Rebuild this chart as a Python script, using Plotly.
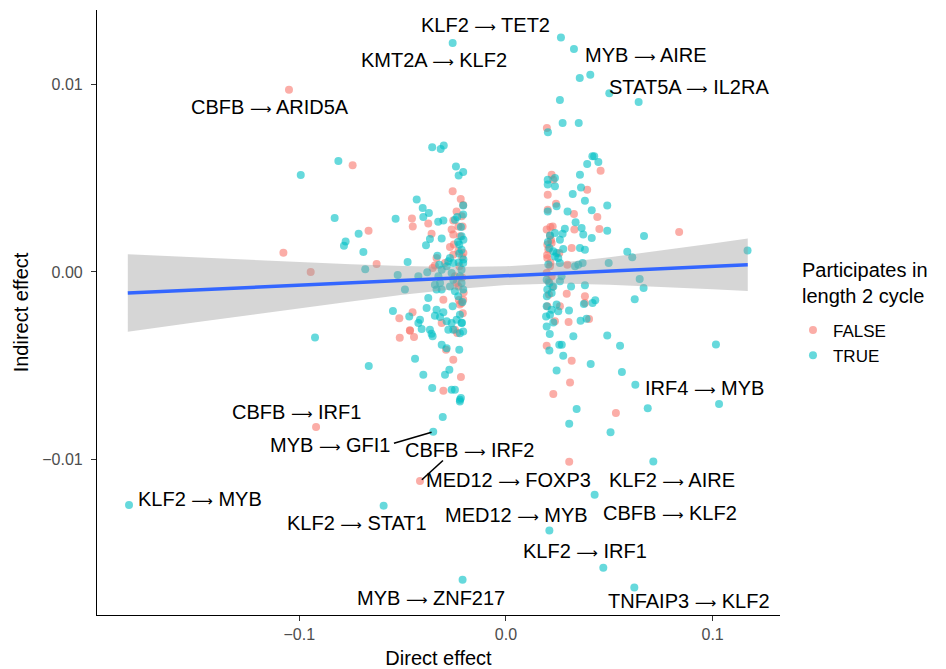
import plotly.graph_objects as go

# ---------------- data ----------------
false_x = [-0.105, -0.0742, -0.0455, -0.0665, -0.1077, -0.0626, -0.0945, -0.0516, -0.0464, -0.0514,
           -0.0919, -0.0416, 0.0306, 0.0532, 0.0838, -0.0258, -0.0219, -0.0207, -0.0451, -0.0376,
           -0.0255, -0.0214, 0.0221, 0.0229, 0.0202, 0.0202, 0.0242, 0.0458, 0.0393, 0.0329,
           0.0442, 0.0198, -0.0239, -0.023, -0.021, -0.036, -0.0263, -0.0255, -0.0271, -0.0252,
           -0.023, -0.0255, -0.0206, -0.0336, -0.0344, -0.0355, -0.0295, -0.0247, -0.023, -0.0215,
           -0.0223, -0.0207, -0.0239, -0.0303, -0.0452, -0.0465, -0.0445, -0.0311, -0.0236, -0.0247,
           -0.029, -0.0255, -0.0218, -0.0303, 0.0452, 0.0331, 0.0197, 0.0213, 0.0226, 0.02,
           0.0221, 0.0318, 0.02, 0.0213, 0.0197, 0.0221, 0.0258, 0.0297, 0.0294, 0.0382,
           0.0382, 0.02, 0.0261, 0.0237, 0.0303, 0.0402, 0.0197, 0.0318, 0.031, 0.0229,
           0.0205, 0.0215, 0.0225, 0.0208, 0.0218, -0.0212, -0.0225, -0.0205,
           -0.0222, -0.0212, -0.0228, -0.0209, 0.0199, 0.0206, 0.0215]
false_y = [0.00972, 0.00569, 0.00285, 0.0022, 0.00103, 0.00043, 0.0, -0.00247, -0.00313, -0.0035,
           -0.00827, -0.01115, -0.01012, -0.00752, 0.00213, 0.0043, 0.00389, 0.00357, 0.00243, 0.00258,
           0.00275, 0.00297, 0.00519, 0.00492, 0.00412, 0.00332, 0.00364, 0.0054, 0.00439, 0.00309,
           0.00293, 0.00768, 0.00323, 0.00243, 0.00243, 0.00204, 0.00226, 0.0020, 0.00133, 0.00146,
           0.0011, 0.00092, 0.00101, 0.00075, 0.00034, 0.00021, 0.00048, -0.00023, -0.00077, -0.00165,
           -0.00174, -0.00148, -0.00059, -0.00148, -0.00215, -0.0031, -0.00347, -0.00272, -0.00325, -0.00308,
           -0.00414, -0.00468, -0.0056, -0.00633, 0.00229, 0.00226, 0.00226, 0.00194, 0.00243, 0.00146,
           0.00155, 0.00128, 0.00074, 0.0003, -0.00005, -0.00023, 0.00101, 0.00039, -0.00116, -0.0013,
           -0.00166, -0.00183, -0.00183, -0.00263, -0.00267, -0.0025, -0.00393, -0.00473, -0.00589, -0.00651,
           0.0012, 0.0005, -0.0008, -0.0012, 0.0017, -0.0003, 0.0003, -0.0011,
           0.0019, 0.0008, -0.0015, -0.0022, 0.0009, -0.0005, 0.0024]

true_x = [-0.0811, -0.0993, -0.0829, -0.0534, -0.0713, -0.0776, -0.0784, -0.069, -0.0476, -0.0681,
          -0.0524, -0.0489, -0.0547, -0.0468, -0.0924, -0.0664, -0.0352, -0.1824, -0.0592, -0.021,
          -0.0223, -0.0306, 0.0342, 0.0306, 0.0506, 0.0686, 0.1031, 0.0713, 0.0429, 0.021,
          0.0471, 0.0621, 0.0668, 0.0587, 0.0611, 0.1169, 0.0647, 0.0666, 0.0623, 0.1016,
          0.0552, 0.0561, 0.0626, -0.0258, 0.0266, 0.0329, 0.0357, 0.0408, 0.05, 0.0642,
          0.0261, 0.0274, 0.0352, 0.0203, -0.0357, -0.0316, -0.0301, -0.0242, -0.0207, -0.0229,
          -0.0432, -0.0403, -0.04, -0.0373, -0.0328, -0.0303, -0.0247, -0.0236, -0.0207, -0.0207,
          0.0202, 0.0202, 0.0237, 0.0237, 0.0202, 0.0245, 0.0323, 0.0358, 0.0393, 0.0418,
          0.0427, 0.0447, 0.0363, 0.0382, 0.049, 0.0298, 0.0415, 0.0337, -0.0368, -0.0387,
          -0.0311, -0.0215, -0.0206, -0.0226, -0.0215, -0.0226, -0.0206, -0.0332, -0.0271, -0.0279,
          -0.0255, -0.0323, -0.0311, -0.0327, -0.0319, -0.0311, -0.0424, -0.0381, -0.0287, -0.0263,
          -0.0255, -0.0271, -0.0247, -0.0231, -0.0215, -0.0207, -0.0215, -0.0207, -0.0223, -0.0344,
          -0.0336, -0.0376, -0.0384, -0.0336, -0.0303, -0.0344, -0.0319, -0.0416, -0.0424, -0.0408,
          -0.0368, -0.0355, -0.036, -0.0311, -0.0287, -0.0287, -0.0263, -0.0255, -0.0223, -0.0258,
          -0.0215, -0.0207, -0.0239, -0.0279, -0.0223, -0.0226, -0.044, -0.04, -0.0295, -0.0274,
          -0.0357, -0.0263, -0.0247, -0.0223, -0.0218, 0.049, 0.0366, 0.0374, 0.0415, 0.0285,
          0.0274, 0.0261, 0.0213, 0.0237, 0.021, 0.0229, 0.0277, 0.0245, 0.0253, 0.0261,
          0.0237, 0.0358, 0.0382, 0.0334, 0.035, 0.0371, 0.0269, 0.0497, 0.0197, 0.021,
          0.0229, 0.0221, 0.02, 0.0261, 0.0315, 0.0382, 0.0377, 0.0419, 0.0432, 0.0197,
          0.0221, 0.0245, 0.0253, 0.0213, 0.0194, 0.0229, 0.0197, 0.0305, 0.0361, 0.039,
          0.0326, 0.049, 0.021, 0.0258, 0.027, 0.0277, 0.041, 0.0245,
          -0.0218, -0.0211, -0.0229, -0.0213, -0.0232, 0.0203, 0.0198, 0.0212, 0.0205]
true_y = [0.00592, 0.00517, 0.00288, 0.00284, 0.00204, 0.00162, 0.0014, 0.00107, 0.00053, 0.00014,
          -0.00016, -0.00093, -0.00208, -0.00237, -0.00349, -0.00501, -0.00852, -0.01243, -0.01246, -0.01641,
          -0.0069, -0.00773, -0.00731, -0.00809, -0.00855, -0.00727, -0.00704, -0.0101, -0.01188, -0.01378,
          -0.01577, -0.01682, 0.00192, 0.00108, 0.00078, 0.00115, -0.00037, -0.00085, -0.00146, -0.00386,
          -0.00393, -0.00533, -0.00601, 0.01221, 0.01251, 0.01189, 0.01035, 0.01052, 0.00953, 0.00907,
          0.00917, 0.00795, 0.00795, 0.00745, 0.00665, 0.00656, 0.00675, 0.00562, 0.00533, 0.00514,
          0.00386, 0.00341, 0.00293, 0.00315, 0.00268, 0.00275, 0.00279, 0.00293, 0.00306, 0.00354,
          0.00492, 0.00466, 0.00501, 0.00457, 0.00323, 0.0035, 0.00416, 0.00519, 0.00576, 0.00617,
          0.00617, 0.00587, 0.00451, 0.0038, 0.00355, 0.00323, 0.00329, 0.00265, 0.00176, 0.00142,
          0.00178, 0.0019, 0.00172, 0.00146, 0.00119, 0.00098, 0.00066, 0.00087, 0.00075, 0.00057,
          0.00048, 0.00039, 0.00012, -0.00023, -0.00059, -0.00094, -0.00023, -0.00002, 0.0003, -0.00005,
          -0.00041, -0.00077, -0.00103, -0.0013, -0.00059, -0.00094, 0.00012, 0.00048, -0.00023, -0.00068,
          -0.00094, -0.00139, -0.00192, -0.00201, -0.00215, -0.00233, -0.0024, -0.00254, -0.00272, -0.00304,
          -0.00308, -0.00343, -0.00329, -0.00388, -0.00406, -0.00263, -0.00272, -0.00308, -0.00228, -0.00183,
          -0.00272, -0.00317, -0.00254, -0.00308, -0.00326, -0.00414, -0.00462, -0.00548, -0.00548, -0.00521,
          -0.00619, -0.00628, -0.00628, -0.00681, -0.00672, 0.0022, 0.00235, 0.002, 0.00181, 0.0023,
          0.00204, 0.00172, 0.00194, 0.00208, 0.00128, 0.0011, 0.00123, 0.00101, 0.00074, 0.00048,
          0.00083, 0.00128, 0.00119, 0.0003, 0.00039, 0.00048, -0.00023, 0.00048, -0.00041, -0.00059,
          -0.00077, -0.00112, -0.00094, -0.0005, -0.00077, -0.00071, -0.00171, -0.00166, -0.00151, -0.00183,
          -0.00201, -0.00174, -0.0021, -0.00228, -0.00237, -0.00269, -0.0029, -0.00205, -0.0026, -0.00249,
          -0.00343, -0.00338, -0.00418, -0.00388, -0.00388, -0.00446, -0.00491, -0.00525,
          0.0024, -0.0016, 0.0005, -0.0027, 0.0016, 0.0016, -0.0013, -0.0033, 0.0004]

# linear fit with 95% confidence band
fit_x = [-0.183, -0.15, -0.125, -0.1, -0.075, -0.05, -0.025, 0.0, 0.025, 0.05, 0.075, 0.1, 0.117]
fit_y = [-0.00112, -0.00095, -0.00083, -0.0007, -0.00058, -0.00045, -0.00033, -0.0002, -0.00007,
         0.00005, 0.00018, 0.0003, 0.00039]
fit_lo = [-0.00319, -0.00268, -0.00231, -0.00193, -0.00157, -0.00122, -0.00092, -0.0007, -0.00062,
          -0.00068, -0.00078, -0.00092, -0.00101]
fit_hi = [0.00095, 0.00078, 0.00065, 0.00053, 0.00041, 0.00032, 0.00026, 0.0003, 0.00048,
          0.00078, 0.00114, 0.00152, 0.00179]

label_text = ["KLF2 → TET2", "KMT2A → KLF2", "MYB → AIRE", "STAT5A → IL2RA", "CBFB → ARID5A",
              "IRF4 → MYB", "CBFB → IRF1", "MYB → GFI1", "CBFB → IRF2", "MED12 → FOXP3",
              "KLF2 → AIRE", "CBFB → KLF2", "MED12 → MYB", "KLF2 → IRF1", "TNFAIP3 → KLF2",
              "MYB → ZNF217", "KLF2 → MYB", "KLF2 → STAT1"]

x_ticks = [-0.1, 0.0, 0.1]
x_ticktext = ["−0.1", "0.0", "0.1"]
y_ticks = [-0.01, 0.0, 0.01]
y_ticktext = ["−0.01", "0.00", "0.01"]

# ---------------- layout helpers (positions of the repelled labels) ----------------
label_pos = [(-0.0097, 0.01319), (-0.0348, 0.01132), (0.0677, 0.01159), (0.0885, 0.00988),
             (-0.1142, 0.00881), (0.0963, -0.00617), (-0.1014, -0.00745), (-0.0851, -0.00921),
             (-0.0177, -0.00948), (0.0010, -0.01108), (0.0803, -0.01108), (0.0793, -0.01284),
             (0.0051, -0.01294), (0.0382, -0.01486), (0.0885, -0.01753), (-0.0363, -0.01737),
             (-0.1480, -0.01209), (-0.0721, -0.01337)]
segments = [(-0.0542, -0.00913, -0.0360, -0.00854), (-0.0407, -0.01108, -0.0305, -0.01005)]

FONT = "Liberation Sans, Arial, Helvetica, sans-serif"
PINK = "#F8766D"
CYAN = "#00BFC4"
ARROW = '<span style="font-family:DejaVu Sans;font-size:15px">⟶</span>'

fig = go.Figure()
fig.add_trace(go.Scatter(x=false_x, y=false_y, mode="markers", name="FALSE",
                         marker=dict(color=PINK, size=8, opacity=0.6, line=dict(width=0))))
fig.add_trace(go.Scatter(x=true_x, y=true_y, mode="markers", name="TRUE",
                         marker=dict(color=CYAN, size=8, opacity=0.6, line=dict(width=0))))
fig.add_trace(go.Scatter(x=fit_x + fit_x[::-1], y=fit_hi + fit_lo[::-1], mode="lines",
                         fill="toself", fillcolor="rgba(153,153,153,0.4)", line=dict(width=0),
                         hoverinfo="skip", showlegend=False))
fig.add_trace(go.Scatter(x=fit_x, y=fit_y, mode="lines", line=dict(color="#3366FF", width=3.5),
                         showlegend=False))

annotations = []
for t, (ax_, ay_) in zip(label_text, label_pos):
    annotations.append(dict(x=ax_, y=ay_, xref="x", yref="y", text=t.replace("→", ARROW),
                            showarrow=False,
                            font=dict(family=FONT, size=20, color="black"),
                            xanchor="center", yanchor="middle"))
# legend title as a free annotation
annotations.append(dict(x=1.0293, y=0.592, xref="paper", yref="paper", xanchor="left", yanchor="top",
                        align="left", showarrow=False,
                        text="Participates in<br>length 2 cycle",
                        font=dict(family=FONT, size=20, color="black")))
shapes = [dict(type="line", xref="x", yref="y", x0=a, y0=b, x1=c, y1=d,
               line=dict(color="black", width=1.6)) for a, b, c, d in segments]

# the page body adds an 8px offset; compensate in figure size / margins
fig.update_layout(
    width=938, height=661,
    margin=dict(l=89, r=166, t=2, b=54),
    plot_bgcolor="white", paper_bgcolor="white",
    font=dict(family=FONT, size=16, color="black"),
    annotations=annotations, shapes=shapes,
    legend=dict(x=1.019, y=0.5, xanchor="left", yanchor="top",
                font=dict(size=17, family=FONT), itemsizing="trace", tracegroupgap=0),
    showlegend=True,
)
fig.update_xaxes(range=[-0.1979, 0.1326], tickvals=x_ticks, ticktext=x_ticktext,
                 showline=True, linecolor="black", linewidth=1.2, ticks="outside", ticklen=5,
                 tickcolor="#333333", tickwidth=1.2, showgrid=False, zeroline=False,
                 tickfont=dict(size=16, color="#4D4D4D", family=FONT),
                 title=dict(text="Direct effect", font=dict(size=20, family=FONT), standoff=8),
                 automargin=False)
fig.update_yaxes(range=[-0.01829, 0.01397], tickvals=y_ticks, ticktext=y_ticktext,
                 showline=True, linecolor="black", linewidth=1.2, ticks="outside", ticklen=5,
                 tickcolor="#333333", tickwidth=1.2, showgrid=False, zeroline=False,
                 ticklabelstandoff=5,
                 tickfont=dict(size=16, color="#4D4D4D", family=FONT),
                 title=dict(text="Indirect effect", font=dict(size=20, family=FONT), standoff=8),
                 automargin=False)

fig.write_html("out.html")
